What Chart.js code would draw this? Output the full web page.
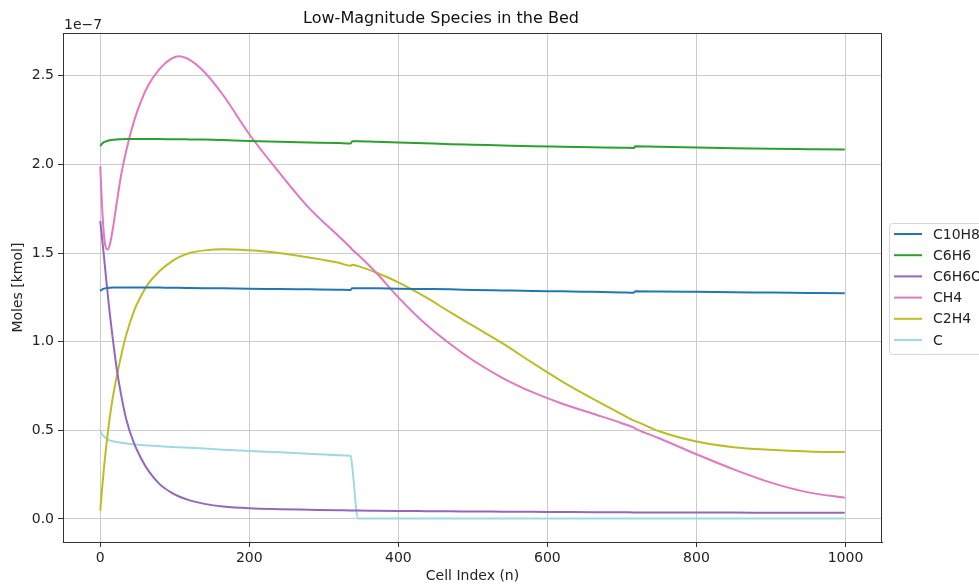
<!DOCTYPE html>
<html>
<head>
<meta charset="utf-8">
<title>Low-Magnitude Species in the Bed</title>
<script src="https://cdn.jsdelivr.net/npm/chart.js@4.4.1/dist/chart.umd.min.js"></script>
<style>
  html, body { margin: 0; padding: 0; background: #fff; }
  canvas { display: block; }
</style>
</head>
<body>
<canvas id="chart" width="979" height="585"></canvas>
<script>
// values are in units of 1e-7 kmol
const cellIndex = [0, 2, 5, 8, 10, 13, 17, 22, 28, 35, 45, 55, 65, 80, 95, 105, 120, 140, 165, 200,
  240, 280, 320, 336, 338, 346, 370, 400, 435, 470, 500, 540, 580, 620, 660, 700, 716, 718,
  750, 800, 850, 900, 950, 999];

const c10h8 = [1.286, 1.293, 1.299, 1.302, 1.303, 1.304, 1.305, 1.306, 1.306, 1.306, 1.306, 1.306, 1.305, 1.305, 1.304, 1.304, 1.303, 1.302, 1.301, 1.298,
  1.297, 1.295, 1.293, 1.292, 1.302, 1.302, 1.301, 1.299, 1.297, 1.295, 1.292, 1.289, 1.286, 1.284, 1.281, 1.278, 1.276, 1.284,
  1.283, 1.281, 1.279, 1.277, 1.275, 1.273];

const c6h6 = [2.103, 2.115, 2.125, 2.130, 2.133, 2.136, 2.139, 2.141, 2.142, 2.143, 2.143, 2.143, 2.143, 2.143, 2.142, 2.142, 2.141, 2.140, 2.137, 2.132,
  2.128, 2.124, 2.120, 2.118, 2.131, 2.131, 2.128, 2.124, 2.119, 2.114, 2.111, 2.107, 2.103, 2.100, 2.097, 2.094, 2.093, 2.102,
  2.099, 2.095, 2.091, 2.088, 2.086, 2.084];

const c6h6o = [1.68, 1.60, 1.48, 1.35, 1.27, 1.15, 1.01, 0.85, 0.70, 0.56, 0.43, 0.34, 0.27, 0.195, 0.15, 0.128, 0.105, 0.085, 0.07, 0.06,
  0.055, 0.052, 0.049, 0.048, 0.048, 0.047, 0.046, 0.045, 0.044, 0.043, 0.042, 0.041, 0.040, 0.039, 0.038, 0.038, 0.037, 0.037,
  0.037, 0.036, 0.036, 0.035, 0.035, 0.035];

const ch4 = [1.99, 1.80, 1.60, 1.525, 1.52, 1.55, 1.64, 1.78, 1.94, 2.08, 2.24, 2.36, 2.45, 2.54, 2.595, 2.61, 2.59, 2.52, 2.39, 2.17,
  1.955, 1.755, 1.595, 1.53, 1.52, 1.49, 1.39, 1.25, 1.105, 0.985, 0.895, 0.795, 0.715, 0.65, 0.595, 0.54, 0.515, 0.51,
  0.455, 0.365, 0.28, 0.205, 0.15, 0.12];

const c2h4 = [0.047, 0.15, 0.29, 0.41, 0.48, 0.58, 0.69, 0.80, 0.92, 1.04, 1.17, 1.26, 1.33, 1.40, 1.45, 1.475, 1.50, 1.515, 1.522, 1.515,
  1.50, 1.475, 1.445, 1.428, 1.434, 1.426, 1.39, 1.335, 1.255, 1.165, 1.09, 0.99, 0.88, 0.775, 0.68, 0.59, 0.555, 0.552,
  0.495, 0.437, 0.405, 0.39, 0.381, 0.377];

const carbon = [0.50, 0.48, 0.465, 0.455, 0.449, 0.443, 0.438, 0.434, 0.43, 0.426, 0.421, 0.417, 0.414, 0.41, 0.406, 0.404, 0.401, 0.397, 0.391, 0.383,
  0.376, 0.368, 0.36, 0.356, 0.30, 0.003, 0.003, 0.003, 0.003, 0.003, 0.003, 0.003, 0.003, 0.003, 0.003, 0.003, 0.003, 0.003,
  0.003, 0.003, 0.003, 0.003, 0.003, 0.003];

const seriesNames = ['C10H8', 'C6H6', 'C6H6O', 'CH4', 'C2H4', 'C'];
const seriesValues = [c10h8, c6h6, c6h6o, ch4, c2h4, carbon];
const seriesColors = ['#1f77b4', '#2ca02c', '#9467bd', '#e377c2', '#bcbd22', '#9edae5'];

const xTicks = [0, 200, 400, 600, 800, 1000];
const yTicks = [0, 0.5, 1.0, 1.5, 2.0, 2.5];

const FONT = "'DejaVu Sans', sans-serif";

// frame, offset text and legend like the original figure
const extras = {
  id: 'extras',
  afterDraw(chart) {
    const ctx = chart.ctx;
    const a = chart.chartArea;
    ctx.save();
    ctx.strokeStyle = '#333';
    ctx.lineWidth = 1;
    ctx.strokeRect(Math.round(a.left) + 0.5, Math.round(a.top) + 0.5,
      Math.round(a.right - a.left) - 1, Math.round(a.bottom - a.top));

    ctx.fillStyle = '#222';
    ctx.font = '14px ' + FONT;
    ctx.textAlign = 'left';
    ctx.textBaseline = 'alphabetic';
    ctx.fillText('1e\u22127', a.left + 1, 29);

    // legend box, partly cut off at the right edge
    const lx = 889.5, ly = 223.5, lw = 110, lh = 131;
    ctx.beginPath();
    ctx.roundRect(lx, ly, lw, lh, 3);
    ctx.fillStyle = 'rgba(255,255,255,0.8)';
    ctx.fill();
    ctx.strokeStyle = '#d6d6d6';
    ctx.stroke();

    ctx.textBaseline = 'middle';
    seriesNames.forEach((name, i) => {
      const y = 234 + i * 21.2;
      ctx.strokeStyle = seriesColors[i];
      ctx.lineWidth = 2;
      ctx.beginPath();
      ctx.moveTo(894, y);
      ctx.lineTo(922, y);
      ctx.stroke();
      ctx.fillStyle = '#222';
      ctx.fillText(name, 933, y + 1);
    });
    ctx.restore();
  }
};

new Chart(document.getElementById('chart'), {
  type: 'line',
  data: {
    datasets: seriesNames.map((name, i) => ({
      label: name,
      data: cellIndex.map((x, j) => ({ x: x, y: seriesValues[i][j] })),
      borderColor: seriesColors[i],
      borderWidth: 2,
      pointRadius: 0,
      fill: false,
      cubicInterpolationMode: 'monotone'
    }))
  },
  options: {
    responsive: false,
    animation: false,
    devicePixelRatio: 1,
    layout: { padding: { left: 0, right: 97, top: 0, bottom: 0 } },
    plugins: {
      legend: { display: false },
      tooltip: { enabled: false },
      title: {
        display: true,
        text: 'Low-Magnitude Species in the Bed',
        color: '#111',
        font: { family: FONT, size: 16, weight: 'normal' },
        padding: { top: 9, bottom: 5 }
      }
    },
    scales: {
      x: {
        type: 'linear',
        min: -50,
        max: 1049,
        afterBuildTicks: (scale) => { scale.ticks = xTicks.map(v => ({ value: v })); },
        afterFit: (scale) => { scale.height = 43; },
        ticks: {
          color: '#222',
          font: { family: FONT, size: 14 },
          padding: 3,
          maxRotation: 0,
          callback: (v) => String(v)
        },
        grid: { color: '#cccccc', lineWidth: 1, tickColor: '#333', tickLength: 5 },
        border: { color: '#333', width: 1 },
        title: {
          display: true,
          text: 'Cell Index (n)',
          color: '#222',
          font: { family: FONT, size: 14 },
          padding: { top: 1, bottom: 0 }
        }
      },
      y: {
        type: 'linear',
        min: -0.13,
        max: 2.74,
        afterBuildTicks: (scale) => { scale.ticks = yTicks.map(v => ({ value: v })); },
        afterFit: (scale) => { scale.width = 63; },
        ticks: {
          color: '#222',
          font: { family: FONT, size: 14 },
          padding: 4,
          callback: (v) => v.toFixed(1)
        },
        grid: { color: '#cccccc', lineWidth: 1, tickColor: '#333', tickLength: 5 },
        border: { color: '#333', width: 1 },
        title: {
          display: true,
          text: 'Moles [kmol]',
          color: '#222',
          font: { family: FONT, size: 14 },
          padding: { top: 10, bottom: 0 }
        }
      }
    }
  },
  plugins: [extras]
});
</script>
</body>
</html>
